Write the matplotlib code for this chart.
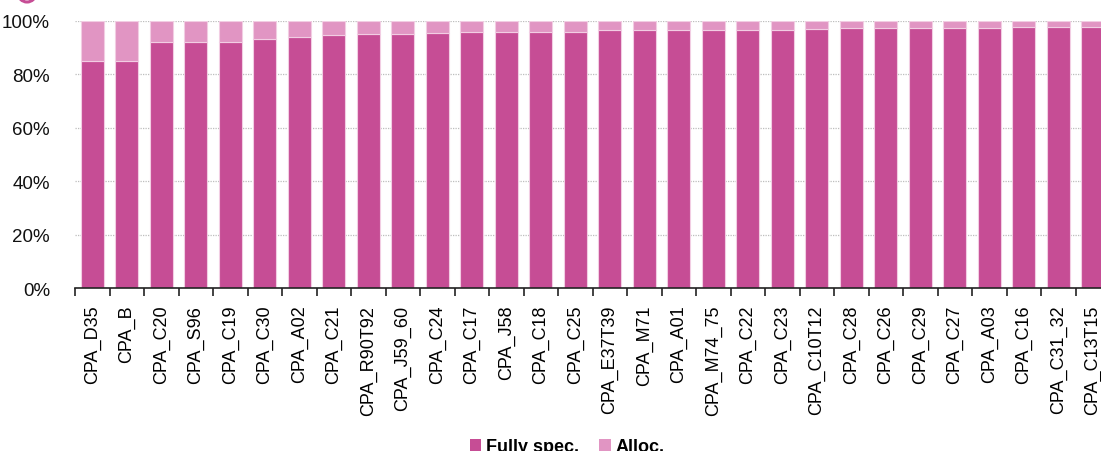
import matplotlib

matplotlib.use("Agg")
import matplotlib.pyplot as plt
from matplotlib.patches import Circle, Patch
from matplotlib.ticker import FixedLocator, PercentFormatter
from matplotlib.transforms import IdentityTransform
import numpy as np

FULL_COLOR = "#C64D95"
ALLOC_COLOR = "#E195C3"
EDGE_COLOR = "#F2CDE3"
GRID_COLOR = "#BDBDBD"

categories = [
    "CPA_D35", "CPA_B", "CPA_C20", "CPA_S96", "CPA_C19", "CPA_C30", "CPA_A02",
    "CPA_C21", "CPA_R90T92", "CPA_J59_60", "CPA_C24", "CPA_C17", "CPA_J58",
    "CPA_C18", "CPA_C25", "CPA_E37T39", "CPA_M71", "CPA_A01", "CPA_M74_75",
    "CPA_C22", "CPA_C23", "CPA_C10T12", "CPA_C28", "CPA_C26", "CPA_C29",
    "CPA_C27", "CPA_A03", "CPA_C16", "CPA_C31_32", "CPA_C13T15",
]
fully_spec = [
    84.9, 84.9, 92.0, 92.2, 92.2, 93.1, 94.1, 94.8, 95.2, 95.3,
    95.6, 95.7, 96.0, 96.0, 96.0, 96.5, 96.5, 96.5, 96.6, 96.5,
    96.7, 96.9, 97.2, 97.4, 97.5, 97.5, 97.5, 97.6, 97.6, 97.9,
]
alloc = [
    15.1, 15.1, 8.0, 7.8, 7.8, 6.9, 5.9, 5.2, 4.8, 4.7,
    4.4, 4.3, 4.0, 4.0, 4.0, 3.5, 3.5, 3.5, 3.4, 3.5,
    3.3, 3.1, 2.8, 2.6, 2.5, 2.5, 2.5, 2.4, 2.4, 2.1,
]
legend_labels = ["Fully spec.", "Alloc."]
y_ticks = [0, 20, 40, 60, 80, 100]

plt.rcParams.update({
    "font.family": ["Liberation Sans", "DejaVu Sans"],
    "figure.facecolor": "white",
    "axes.facecolor": "white",
})

W, H, DPI = 1101, 452, 100
fig = plt.figure(figsize=(W / DPI, H / DPI), dpi=DPI)

# plot area in pixels: x 75..1110 (last bar runs off the edge), y 22..289
left, right = 75, 75 + 30 * 34.5
top, bottom = 22, 289
ax = fig.add_axes([left / W, (H - bottom) / H, (right - left) / W, (bottom - top) / H])

x = np.arange(len(categories))
bar_kw = dict(width=0.67, edgecolor=EDGE_COLOR, linewidth=0.8, zorder=3)
ax.bar(x, fully_spec, color=FULL_COLOR, **bar_kw)
ax.bar(x, alloc, bottom=fully_spec, color=ALLOC_COLOR, **bar_kw)

ax.set_xlim(-0.5, len(categories) - 0.5)
ax.set_ylim(0, 100)
ax.set_yticks(y_ticks)
ax.yaxis.set_major_formatter(PercentFormatter(decimals=0))
ax.grid(True, axis="y", color=GRID_COLOR, linestyle=(0, (1, 1)), linewidth=0.9, zorder=0)
ax.set_axisbelow(True)

# category labels centred on bars, tick marks on the boundaries
ax.set_xticks(x)
ax.set_xticklabels(categories, rotation=90, fontsize=13)
ax.xaxis.set_minor_locator(FixedLocator(np.arange(-0.5, len(categories), 1.0)))
ax.tick_params(axis="x", which="major", length=0, pad=12)
ax.tick_params(axis="x", which="minor", length=6, width=1.2, color="#222222")
ax.tick_params(axis="y", length=0, pad=18, labelsize=13.5, colors="#111111")

for side in ("top", "right", "left"):
    ax.spines[side].set_visible(False)
ax.spines["bottom"].set_color("#222222")
ax.spines["bottom"].set_linewidth(1.2)
ax.spines["bottom"].set_zorder(4)

handles = [Patch(facecolor=FULL_COLOR), Patch(facecolor=ALLOC_COLOR)]
fig.legend(
    handles, legend_labels,
    loc="center", bbox_to_anchor=(0.515, (H - 448) / H),
    ncol=2, frameon=False,
    handlelength=0.65, handleheight=0.65, handletextpad=0.25, columnspacing=1.1,
    prop={"weight": "bold", "size": 13},
)

# marker of the section heading, clipped by the top edge (display pixels)
fig.add_artist(Circle((27, H + 6), 9, transform=IdentityTransform(),
                      facecolor="none", edgecolor=FULL_COLOR, linewidth=2.2, clip_on=False))

fig.savefig("out.png", dpi=DPI)
